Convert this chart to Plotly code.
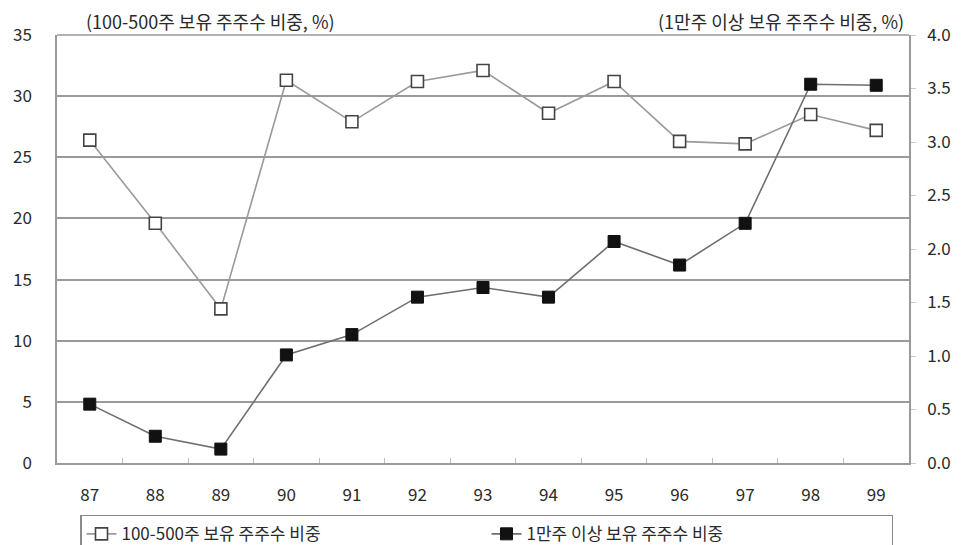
import plotly.graph_objects as go

years = ["87", "88", "89", "90", "91", "92", "93", "94", "95", "96", "97", "98", "99"]
small_holders = [26.4, 19.6, 12.6, 31.3, 27.9, 31.2, 32.1, 28.6, 31.2, 26.3, 26.1, 28.5, 27.2]
large_holders = [0.55, 0.25, 0.13, 1.01, 1.20, 1.55, 1.64, 1.55, 2.07, 1.85, 2.24, 3.54, 3.53]

name_small = "100-500주 보유 주주수 비중"
name_large = "1만주 이상 보유 주주수 비중"
left_title = "(100-500주 보유 주주수 비중, %)"
right_title = "(1만주 이상 보유 주주수 비중, %)"

FONT = "Noto Sans CJK KR"
TXT = "#2a2a2a"
GRID = "#9a9a9a"

fig = go.Figure()
fig.add_trace(go.Scatter(
    x=years, y=small_holders, name=name_small, mode="lines+markers",
    line=dict(color="#9a9a9a", width=1.6),
    marker=dict(symbol="square", size=12, color="white", line=dict(color="#444", width=1.6)),
    yaxis="y",
))
fig.add_trace(go.Scatter(
    x=years, y=large_holders, name=name_large, mode="lines+markers",
    line=dict(color="#6e6e6e", width=1.6),
    marker=dict(symbol="square", size=12, color="#111", line=dict(color="#111", width=1)),
    yaxis="y2",
))

fig.update_layout(
    width=965, height=545,
    margin=dict(l=49, r=64, t=27, b=90, autoexpand=False),
    paper_bgcolor="white", plot_bgcolor="white",
    font=dict(family=FONT, size=16, color=TXT),
    showlegend=True,
    legend=dict(
        orientation="h", x=0.027, y=-0.121, xanchor="left", yanchor="top",
        bordercolor="#8a8a8a", borderwidth=1.5, bgcolor="white",
        entrywidth=360, entrywidthmode="pixels",
        font=dict(size=17, color=TXT),
        itemwidth=30,
    ),
    xaxis=dict(
        type="category", range=[-0.5, 12.5],
        showline=True, linecolor=GRID, linewidth=1.5,
        ticks="inside", tickson="boundaries", ticklen=5, tickcolor="#bbb",
        showgrid=False, ticklabelstandoff=16,
        tickfont=dict(size=17, color=TXT),
    ),
    yaxis=dict(
        range=[0, 35], dtick=5, tick0=0,
        showline=True, linecolor=GRID, linewidth=1.5,
        showgrid=True, gridcolor=GRID, gridwidth=1.5,
        zeroline=False, ticks="", ticklabelstandoff=20,
        tickfont=dict(size=17, color=TXT),
    ),
    yaxis2=dict(
        range=[0, 4], dtick=0.5, tick0=0, tickformat=".1f",
        overlaying="y", side="right",
        showline=True, linecolor=GRID, linewidth=1.5,
        showgrid=False, zeroline=False,
        ticks="outside", ticklen=5, tickcolor="#c8c8c8",
        ticklabelstandoff=8,
        tickfont=dict(size=17, color=TXT),
    ),
    annotations=[
        dict(text=left_title, xref="paper", yref="paper", x=0.033, y=1.0,
             xanchor="left", yanchor="bottom", showarrow=False, borderpad=0,
             font=dict(size=18, color=TXT)),
        dict(text=right_title, xref="paper", yref="paper", x=0.995, y=1.0,
             xanchor="right", yanchor="bottom", showarrow=False, borderpad=0,
             font=dict(size=18, color=TXT)),
    ],
    shapes=[
        dict(type="line", xref="paper", yref="paper", x0=0, x1=1, y0=1, y1=1,
             line=dict(color=GRID, width=1.5)),
    ],
)

fig.write_html("out.html")
